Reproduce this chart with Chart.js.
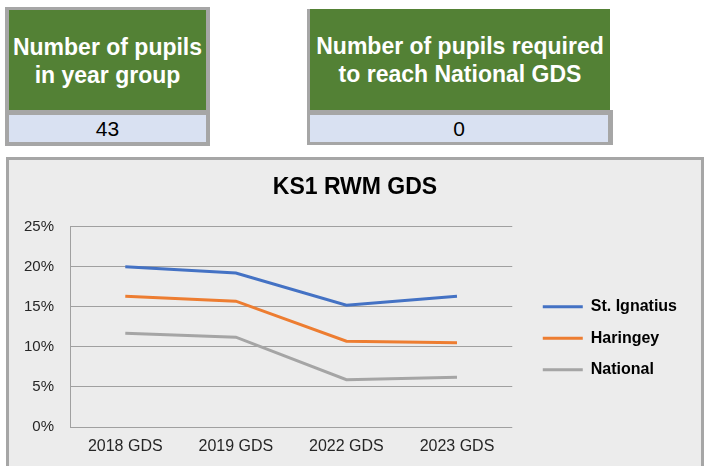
<!DOCTYPE html>
<html lang="en">

<head>
  <meta charset="UTF-8">
  <title>KS1 RWM GDS</title>
  <script src="https://cdn.jsdelivr.net/npm/chart.js"></script>
  <style>
    body {
      margin: 0;
      background: #fff;
      font-family: "Liberation Sans", Arial, sans-serif;
      width: 704px;
      height: 466px;
      overflow: hidden;
      position: relative;
    }

    .card1 {
      position: absolute;
      left: 5px;
      top: 7px;
      width: 205px;
      height: 139px;
      background: #a6a6a6;
    }

    .card1 .head {
      position: absolute;
      left: 4px;
      right: 4px;
      top: 3px;
      height: 100px;
      background: #538135;
    }

    .card1 .val {
      position: absolute;
      left: 4px;
      right: 4px;
      top: 108px;
      height: 27px;
      background: #d9e1f2;
    }

    .head2 {
      position: absolute;
      left: 307px;
      top: 9px;
      width: 300px;
      height: 101px;
      border-left: 3px solid #a6a6a6;
      background: #538135;
    }

    .val2 {
      position: absolute;
      left: 307px;
      top: 110px;
      width: 306px;
      height: 35px;
      background: #a6a6a6;
    }

    .val2 .val {
      position: absolute;
      left: 3px;
      right: 5px;
      top: 5px;
      bottom: 3px;
      background: #d9e1f2;
    }

    .head p,
    .head2 p {
      margin: 0;
      padding-top: 23px;
      color: #fff;
      font-weight: bold;
      font-size: 23px;
      line-height: 28px;
      text-align: center;
      white-space: nowrap;
    }

    .val {
      text-align: center;
      font-size: 21px;
      line-height: 27px;
      color: #000;
    }

    .panel {
      position: absolute;
      left: 6px;
      top: 157px;
      width: 692px;
      height: 320px;
      border: 3px solid #a6a6a6;
      background: #ececec;
    }

    #grafico {
      position: absolute;
      left: 0;
      top: 0;
    }
  </style>
</head>

<body>
  <div class="card1">
    <div class="head">
      <p>Number of pupils<br>in year group</p>
    </div>
    <div class="val">43</div>
  </div>

  <div class="head2">
    <p>Number of pupils required<br>to reach National GDS</p>
  </div>
  <div class="val2">
    <div class="val">0</div>
  </div>

  <div class="panel">
    <canvas id="grafico" width="692" height="306"></canvas>
  </div>

  <script>
    const anos = ['2018 GDS', '2019 GDS', '2022 GDS', '2023 GDS'];
    const stIgnatius = [20.0, 19.2, 15.2, 16.3];
    const haringey = [16.3, 15.7, 10.7, 10.5];
    const national = [11.7, 11.2, 5.9, 6.2];
    const ticksY = [0, 5, 10, 15, 20, 25];

    const fonte = 'Liberation Sans';
    const corGrade = '#a0a0a0';
    const corTexto = '#262626';

    function serie(label, dados, cor) {
      return {
        label: label,
        data: dados,
        borderColor: cor,
        backgroundColor: cor,
        borderWidth: 3,
        pointRadius: 0,
        tension: 0,
        fill: false
      };
    }

    // legend a bit away from the plot, title centred on the whole canvas
    const ajustaCaixas = {
      id: 'ajustaCaixas',
      afterLayout(chart) {
        const leg = chart.legend;
        if (leg) {
          leg.left += 15;
          leg.right += 15;
        }
        const tit = chart.titleBlock;
        if (tit) {
          tit.left = 0;
          tit.right = chart.width;
          tit.width = chart.width;
        }
      }
    };

    const ctx = document.getElementById('grafico').getContext('2d');

    const grafico = new Chart(ctx, {
      type: 'line',
      data: {
        labels: anos,
        datasets: [
          serie('St. Ignatius', stIgnatius, '#4472c4'),
          serie('Haringey', haringey, '#ed7d31'),
          serie('National', national, '#a5a5a5')
        ]
      },
      plugins: [ajustaCaixas],
      options: {
        responsive: false,
        animation: false,
        devicePixelRatio: 1,
        layout: {
          padding: { left: 0, right: 29, top: 0, bottom: 0 }
        },
        scales: {
          x: {
            offset: true,
            grid: { display: false, drawTicks: false },
            border: { display: false },
            ticks: {
              color: corTexto,
              font: { family: fonte, size: 16 },
              padding: 10,
              maxRotation: 0
            },
            afterFit: s => { s.height = 39; }
          },
          y: {
            min: 0,
            max: 25,
            afterBuildTicks: s => { s.ticks = ticksY.map(v => ({ value: v })); },
            grid: { color: corGrade, lineWidth: 1, drawTicks: false },
            border: { display: true, color: corGrade, width: 1 },
            ticks: {
              color: corTexto,
              font: { family: fonte, size: 15 },
              padding: 16,
              callback: v => v + '%'
            },
            afterFit: s => { s.width = 61; }
          }
        },
        plugins: {
          title: {
            display: true,
            text: 'KS1 RWM GDS',
            color: '#000',
            font: { family: fonte, size: 23, weight: 'bold' },
            padding: { top: 14, bottom: 25 }
          },
          legend: {
            position: 'right',
            fullSize: false,
            title: {
              display: true,
              text: '',
              font: { size: 0 },
              padding: { top: 23, bottom: 0 }
            },
            labels: {
              color: '#000',
              font: { family: fonte, size: 16, weight: 'bold' },
              boxWidth: 40,
              boxHeight: 3,
              padding: 15.5,
              generateLabels: chart => Chart.defaults.plugins.legend.labels.generateLabels(chart)
                .map(item => ({ ...item, lineWidth: 0 }))
            }
          },
          tooltip: { enabled: false }
        }
      }
    });
  </script>
</body>

</html>
